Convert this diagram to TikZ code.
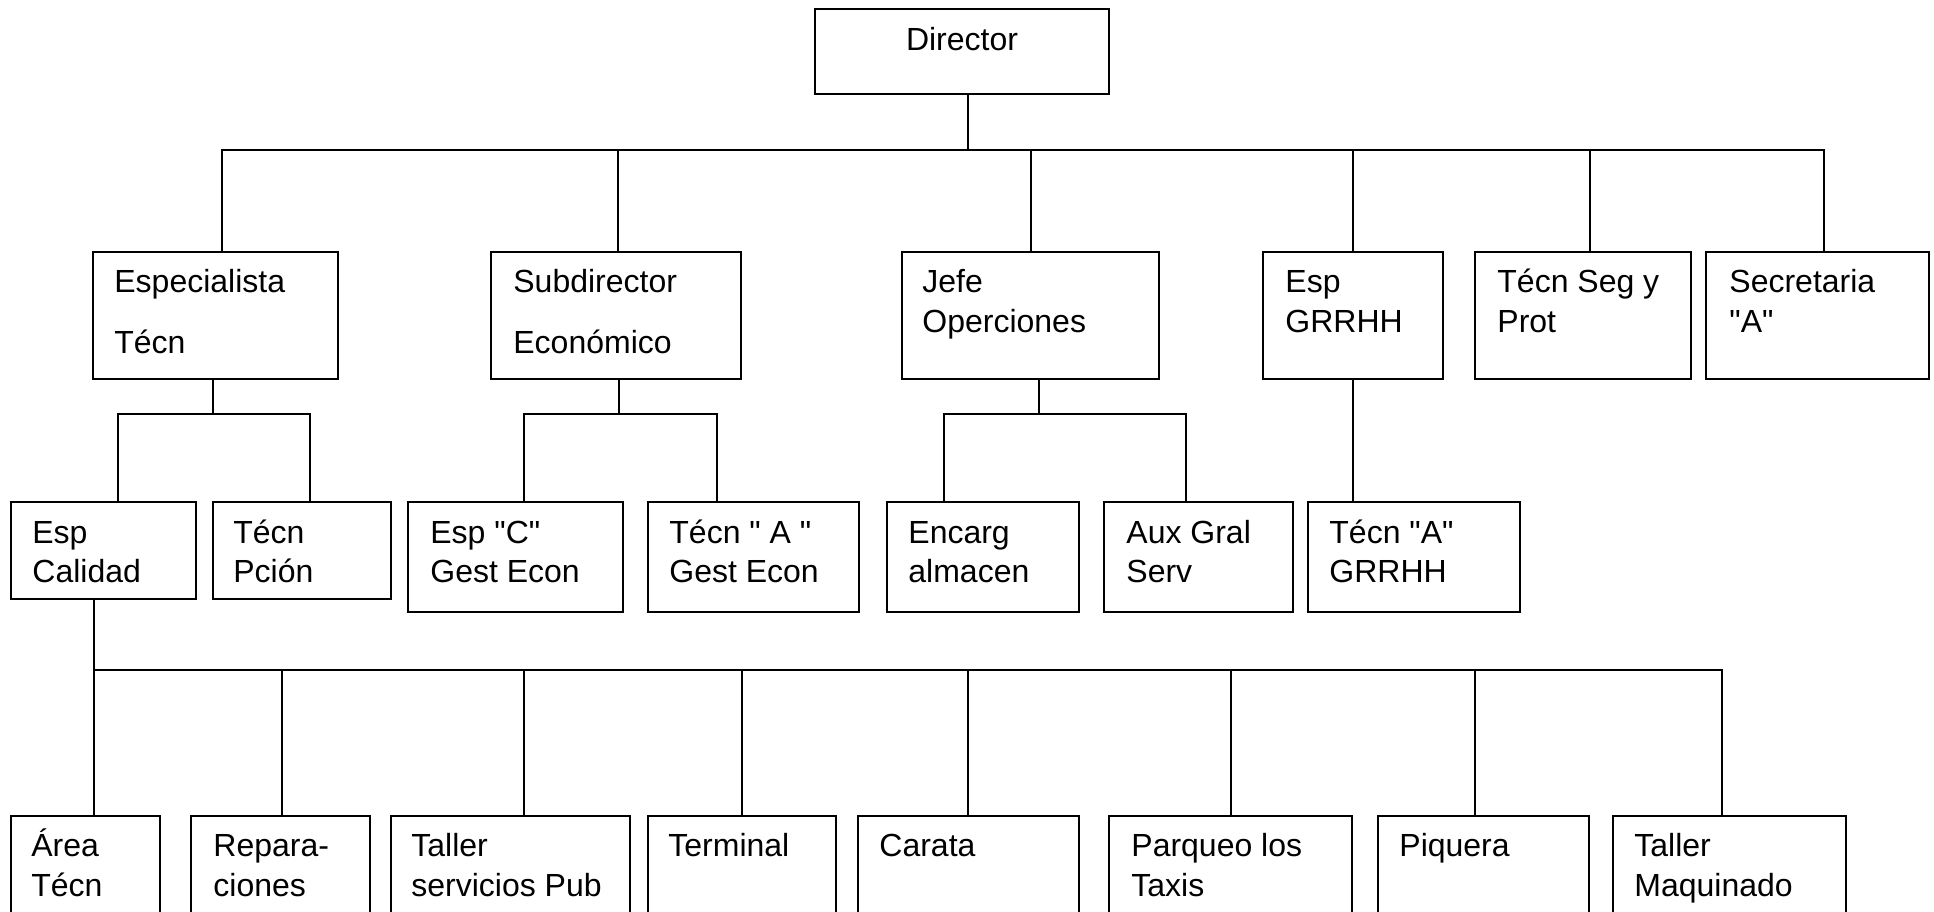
\documentclass[tikz,border=0pt]{standalone}
\usepackage{fontspec}
\setmainfont{Liberation Sans}
\usetikzlibrary{fit}
\newcommand\qd{\textquotedbl}
\tikzset{
  px/.style={x=0.5pt,y=-0.5pt},
  box/.style={draw, line width=1pt, inner sep=0pt, fit={#1}},
  lbl/.style={anchor=base west, inner sep=0pt, font=\fontsize{16}{19}\selectfont},
  con/.style={line width=1pt}
}
\begin{document}
\begin{tikzpicture}[px]
\useasboundingbox (0,0) rectangle (1934,911);
\clip (0,0) rectangle (1934,911);
\fill[white] (0,0) rectangle (1934,911);
% boxes
\node[box={(815,9) (1109,94)}] (dir) {};
\node[box={(93,252) (338,379)}] (esp) {};
\node[box={(491,252) (741,379)}] (sub) {};
\node[box={(902,252) (1159,379)}] (jefe) {};
\node[box={(1263,252) (1443,379)}] (grrhh) {};
\node[box={(1475,252) (1691,379)}] (seg) {};
\node[box={(1706,252) (1929,379)}] (sec) {};
\node[box={(11,502) (196,599)}] (cal) {};
\node[box={(213,502) (391,599)}] (pcion) {};
\node[box={(408,502) (623,612)}] (espc) {};
\node[box={(648,502) (859,612)}] (tecna) {};
\node[box={(887,502) (1079,612)}] (enc) {};
\node[box={(1104,502) (1293,612)}] (aux) {};
\node[box={(1308,502) (1520,612)}] (tecgr) {};
\node[box={(11,816) (160,940)}] (area) {};
\node[box={(191,816) (370,940)}] (rep) {};
\node[box={(391,816) (630,940)}] (tal) {};
\node[box={(648,816) (836,940)}] (ter) {};
\node[box={(858,816) (1079,940)}] (car) {};
\node[box={(1109,816) (1352,940)}] (par) {};
\node[box={(1378,816) (1589,940)}] (piq) {};
\node[box={(1613,816) (1846,940)}] (maq) {};
% labels
\node[lbl, anchor=base] (tdir) at (962,50) {Director};
\node[lbl] (tesp1) at (114,292) {Especialista};
\node[lbl] (tesp2) at (114,353) {Técn};
\node[lbl] (tsub1) at (513,292) {Subdirector};
\node[lbl] (tsub2) at (513,353) {Económico};
\node[lbl] (tjefe1) at (922,292) {Jefe};
\node[lbl] (tjefe2) at (922,332) {Operciones};
\node[lbl] (tgr1) at (1285,292) {Esp};
\node[lbl] (tgr2) at (1285,332) {GRRHH};
\node[lbl] (tseg1) at (1497,292) {Técn Seg y};
\node[lbl] (tseg2) at (1497,332) {Prot};
\node[lbl] (tsec1) at (1729,292) {Secretaria};
\node[lbl] (tsec2) at (1729,332) {\qd A\qd};
\node[lbl] (tcal1) at (32,543) {Esp};
\node[lbl] (tcal2) at (32,582) {Calidad};
\node[lbl] (tpc1) at (233,543) {Técn};
\node[lbl] (tpc2) at (233,582) {Pción};
\node[lbl] (tec1) at (430,543) {Esp \qd C\qd};
\node[lbl] (tec2) at (430,582) {Gest Econ};
\node[lbl] (tta1) at (669,543) {Técn \qd{} A \qd};
\node[lbl] (tta2) at (669,582) {Gest Econ};
\node[lbl] (ten1) at (908,543) {Encarg};
\node[lbl] (ten2) at (908,582) {almacen};
\node[lbl] (tax1) at (1126,543) {Aux Gral};
\node[lbl] (tax2) at (1126,582) {Serv};
\node[lbl] (ttg1) at (1329,543) {Técn \qd A\qd};
\node[lbl] (ttg2) at (1329,582) {GRRHH};
\node[lbl] (tar1) at (31,856) {Área};
\node[lbl] (tar2) at (31,896) {Técn};
\node[lbl] (tre1) at (213,856) {Repara-};
\node[lbl] (tre2) at (213,896) {ciones};
\node[lbl] (tta1b) at (411,856) {Taller};
\node[lbl] (tta2b) at (411,896) {servicios Pub};
\node[lbl] (tte1) at (668,856) {Terminal};
\node[lbl] (tca1) at (879,856) {Carata};
\node[lbl] (tpa1) at (1131,856) {Parqueo los};
\node[lbl] (tpa2) at (1131,896) {Taxis};
\node[lbl] (tpi1) at (1399,856) {Piquera};
\node[lbl] (tma1) at (1634,856) {Taller};
\node[lbl] (tma2) at (1634,896) {Maquinado};
% bus coordinates
\coordinate (b0) at (968,150);
\coordinate (t1) at (222,150);
\coordinate (t2) at (618,150);
\coordinate (t3) at (1031,150);
\coordinate (t4) at (1353,150);
\coordinate (t5) at (1590,150);
\coordinate (t6) at (1824,150);
\coordinate (e0) at (213,414);
\coordinate (e1) at (118,414);
\coordinate (e2) at (310,414);
\coordinate (s0) at (619,414);
\coordinate (s1) at (524,414);
\coordinate (s2) at (717,414);
\coordinate (j0) at (1039,414);
\coordinate (j1) at (944,414);
\coordinate (j2) at (1186,414);
\coordinate (c0) at (94,670);
\coordinate (c1) at (282,670);
\coordinate (c2) at (524,670);
\coordinate (c3) at (742,670);
\coordinate (c4) at (968,670);
\coordinate (c5) at (1231,670);
\coordinate (c6) at (1475,670);
\coordinate (c7) at (1722,670);
% connectors: director
\draw[con] (dir.south -| b0) -- (b0);
\draw[con] (esp.north -| t1) -- (t1) -- (t6) -- (sec.north -| t6);
\draw[con] (t2) -- (sub.north -| t2);
\draw[con] (t3) -- (jefe.north -| t3);
\draw[con] (t4) -- (grrhh.north -| t4);
\draw[con] (t5) -- (seg.north -| t5);
% especialista
\draw[con] (esp.south -| e0) -- (e0);
\draw[con] (cal.north -| e1) -- (e1) -- (e2) -- (pcion.north -| e2);
% subdirector
\draw[con] (sub.south -| s0) -- (s0);
\draw[con] (espc.north -| s1) -- (s1) -- (s2) -- (tecna.north -| s2);
% jefe
\draw[con] (jefe.south -| j0) -- (j0);
\draw[con] (enc.north -| j1) -- (j1) -- (j2) -- (aux.north -| j2);
% grrhh
\draw[con] (grrhh.south -| t4) -- (tecgr.north -| t4);
% calidad
\draw[con] (area.north -| c0) -- (cal.south -| c0);
\draw[con] (c0) -- (c7) -- (maq.north -| c7);
\draw[con] (c1) -- (rep.north -| c1);
\draw[con] (c2) -- (tal.north -| c2);
\draw[con] (c3) -- (ter.north -| c3);
\draw[con] (c4) -- (car.north -| c4);
\draw[con] (c5) -- (par.north -| c5);
\draw[con] (c6) -- (piq.north -| c6);
\end{tikzpicture}
\end{document}
